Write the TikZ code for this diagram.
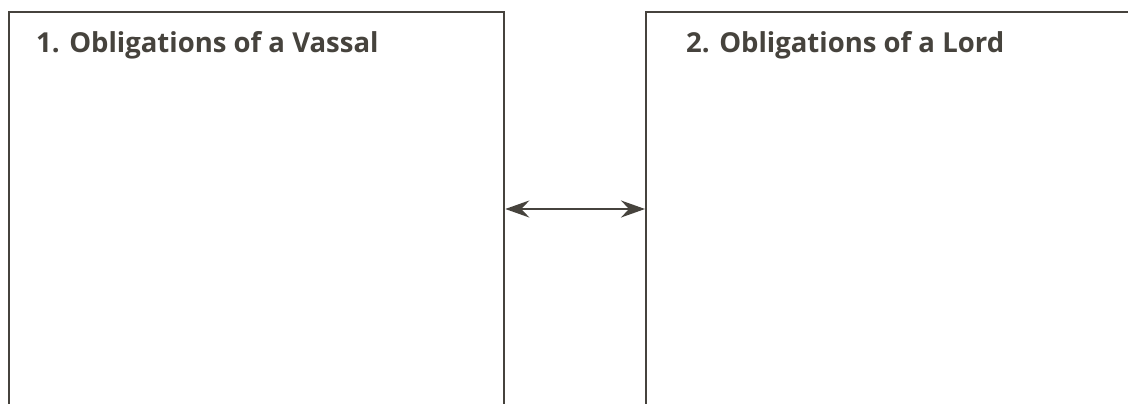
\documentclass[tikz,border=0pt]{standalone}
\usepackage{fontspec}
\setmainfont{Open Sans}
\usetikzlibrary{arrows.meta,positioning}
\definecolor{ink}{HTML}{46433D}
\tikzset{headtip/.tip={Stealth[length=24pt,width=17pt,inset=8pt]}}
\begin{document}
\begin{tikzpicture}[x=1pt,y=-1pt,
  panel/.style={draw=ink,line width=2.3pt,minimum width=#1,minimum height=420pt,inner sep=0pt,anchor=north west},
  title/.style={text=ink,font=\bfseries\fontsize{27.5}{32}\selectfont,anchor=base west,inner sep=0pt},
  arr/.style={draw=ink,line width=2pt,headtip-headtip}]
\useasboundingbox (0,0) rectangle (1128,404);
\clip (0,0) rectangle (1128,404);
\fill[white] (0,0) rectangle (1128,404);
\node[panel=495pt] (left) at (8,11) {};
\node[panel=500pt] (right) at (645,11) {};
\node[title] (t1) at (36,53) {1. Obligations of a Vassal};
\node[title] (t2) at (686,53) {2. Obligations of a Lord};
\draw[arr] ([yshift=-198pt]left.north east) -- ([yshift=-198pt]right.north west);
\end{tikzpicture}
\end{document}
